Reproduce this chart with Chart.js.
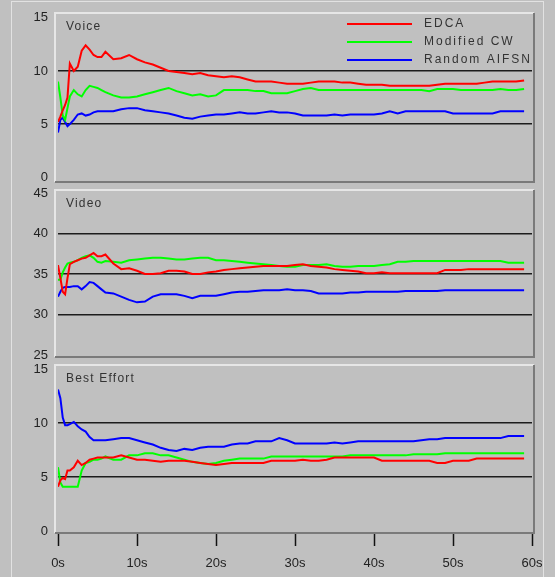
<!DOCTYPE html>
<html><head><meta charset="utf-8">
<script src="https://cdn.jsdelivr.net/npm/chart.js@4.4.1/dist/chart.umd.min.js"></script>
<style>
html,body{margin:0;padding:0;background:#c0c0c0;width:555px;height:577px;overflow:hidden;position:relative;}
.frame{position:absolute;left:11px;top:1px;width:531px;height:590px;border-left:1px solid #e2e2e2;border-top:1px solid #e2e2e2;border-right:1px solid #e2e2e2;}
canvas{position:absolute;left:0;}
</style></head><body>
<div class="frame"></div>
<canvas id="c1" width="555" height="188" style="top:0px"></canvas>
<canvas id="c2" width="555" height="172" style="top:188px"></canvas>
<canvas id="c3" width="555" height="217" style="top:360px"></canvas>
<script>
// ---------- DATA ----------
const times = [0,0.3,0.6,0.9,1.2,1.5,2,2.5,3,3.5,4,4.5,5,5.5,6,
  7,8,9,10,11,12,13,14,15,16,17,18,19,20,21,22,23,24,25,26,27,28,29,30,31,32,33,34,35,36,
  37,38,39,40,41,42,43,44,45,46,47,48,49,50,51,52,53,54,55,56,57,58,59];
const seriesNames = ['EDCA','Modified CW','Random AIFSN'];
const panelTitles = ['Voice','Video','Best Effort'];
const xTickValues = [0,10,20,30,40,50,60];
const voiceTicks = [0,5,10,15];
const videoTicks = [25,30,35,40,45];
const beTicks = [0,5,10,15];

const voiceEdca = [5.2,5.7,6.3,6.8,7.5,10.7,10.0,10.4,11.9,12.4,12.0,11.5,11.3,11.3,11.8,
  11.1,11.2,11.5,11.1,10.8,10.6,10.3,10.0,9.9,9.8,
  9.7,9.8,9.6,9.5,9.4,9.5,9.4,9.2,9.0,9.0,
  9.0,8.9,8.8,8.8,8.8,8.9,9.0,9.0,9.0,8.9,
  8.9,8.8,8.7,8.7,8.7,8.6,8.6,8.6,8.6,8.6,
  8.6,8.7,8.8,8.8,8.8,8.8,8.8,8.9,9.0,9.0,
  9.0,9.0,9.1];
const voiceCw = [9.0,7.5,5.8,5.4,6.5,7.6,8.2,7.8,7.6,8.2,8.6,8.5,8.4,8.2,8.0,
  7.7,7.5,7.5,7.6,7.8,8.0,8.2,8.4,8.1,7.9,
  7.7,7.8,7.6,7.7,8.2,8.2,8.2,8.2,8.1,8.1,
  7.9,7.9,7.9,8.1,8.3,8.4,8.2,8.2,8.2,8.2,
  8.2,8.2,8.2,8.2,8.2,8.2,8.2,8.2,8.2,8.2,
  8.1,8.3,8.3,8.3,8.2,8.2,8.2,8.2,8.2,8.3,
  8.2,8.2,8.3];
const voiceAifsn = [4.2,5.4,5.6,5.2,4.8,5.0,5.4,5.9,6.0,5.8,5.9,6.1,6.2,6.2,6.2,
  6.2,6.4,6.5,6.5,6.3,6.2,6.1,6.0,5.8,5.6,
  5.5,5.7,5.8,5.9,5.9,6.0,6.1,6.0,6.0,6.1,
  6.2,6.1,6.1,6.0,5.8,5.8,5.8,5.8,5.9,5.8,
  5.9,5.9,5.9,5.9,6.0,6.2,6.0,6.2,6.2,6.2,
  6.2,6.2,6.2,6.0,6.0,6.0,6.0,6.0,6.0,6.2,
  6.2,6.2,6.2];

const videoEdca = [36.1,34.5,32.8,32.5,34.5,36.2,36.5,36.7,36.9,37.0,37.3,37.6,37.2,37.2,37.4,
  36.3,35.6,35.7,35.4,35.0,35.0,35.1,35.4,35.4,35.3,
  35.0,35.0,35.2,35.3,35.5,35.6,35.7,35.8,35.9,36.0,
  36.0,36.0,36.0,36.1,36.2,36.0,35.9,35.8,35.6,35.5,
  35.4,35.3,35.1,35.1,35.2,35.1,35.1,35.1,35.1,35.1,
  35.1,35.1,35.5,35.5,35.5,35.6,35.6,35.6,35.6,35.6,
  35.6,35.6,35.6];
const videoCw = [34.3,34.3,35.2,35.8,36.3,36.4,36.5,36.7,37.0,37.2,37.3,37.0,36.5,36.4,36.6,
  36.5,36.4,36.7,36.8,36.9,37.0,37.0,36.9,36.8,36.8,
  36.9,37.0,37.0,36.7,36.7,36.6,36.5,36.4,36.3,36.2,
  36.1,36.0,35.9,35.9,36.1,36.1,36.1,36.2,36.0,35.9,
  35.9,36.0,36.0,36.0,36.1,36.2,36.5,36.5,36.6,36.6,
  36.6,36.6,36.6,36.6,36.6,36.6,36.6,36.6,36.6,36.6,
  36.4,36.4,36.4];
const videoAifsn = [32.2,32.8,33.3,33.4,33.4,33.4,33.5,33.5,33.1,33.5,34.0,33.9,33.5,33.1,32.7,
  32.6,32.2,31.8,31.5,31.6,32.2,32.5,32.5,32.5,32.3,
  32.0,32.3,32.3,32.3,32.5,32.7,32.8,32.8,32.9,33.0,
  33.0,33.0,33.1,33.0,33.0,32.9,32.6,32.6,32.6,32.6,
  32.7,32.7,32.8,32.8,32.8,32.8,32.8,32.9,32.9,32.9,
  32.9,32.9,33.0,33.0,33.0,33.0,33.0,33.0,33.0,33.0,
  33.0,33.0,33.0];

const beEdca = [4.1,4.7,4.9,4.8,5.6,5.6,5.9,6.5,6.1,6.3,6.6,6.7,6.8,6.8,6.8,
  6.8,7.0,6.8,6.6,6.6,6.5,6.4,6.5,6.5,6.5,
  6.4,6.3,6.2,6.1,6.2,6.3,6.3,6.3,6.3,6.3,
  6.5,6.5,6.5,6.5,6.6,6.5,6.5,6.6,6.8,6.8,
  6.8,6.8,6.8,6.8,6.5,6.5,6.5,6.5,6.5,6.5,
  6.5,6.3,6.3,6.5,6.5,6.5,6.7,6.7,6.7,6.7,
  6.7,6.7,6.7];
const beCw = [5.9,4.5,4.1,4.1,4.1,4.1,4.1,4.1,5.6,6.3,6.4,6.6,6.6,6.7,6.9,
  6.6,6.6,7.0,7.0,7.2,7.2,7.0,7.0,6.8,6.6,
  6.4,6.3,6.2,6.3,6.5,6.6,6.7,6.7,6.7,6.7,
  6.9,6.9,6.9,6.9,6.9,6.9,6.9,6.9,6.9,6.9,
  7.0,7.0,7.0,7.0,7.0,7.0,7.0,7.0,7.1,7.1,
  7.1,7.1,7.2,7.2,7.2,7.2,7.2,7.2,7.2,7.2,
  7.2,7.2,7.2];
const beAifsn = [13.1,12.3,10.5,9.8,9.8,9.9,10.1,9.7,9.4,9.2,8.7,8.4,8.4,8.4,8.4,
  8.5,8.6,8.6,8.4,8.2,8.0,7.7,7.5,7.4,7.6,
  7.5,7.7,7.8,7.8,7.8,8.0,8.1,8.1,8.3,8.3,
  8.3,8.6,8.4,8.1,8.1,8.1,8.1,8.1,8.2,8.1,
  8.2,8.3,8.3,8.3,8.3,8.3,8.3,8.3,8.3,8.4,
  8.5,8.5,8.6,8.6,8.6,8.6,8.6,8.6,8.6,8.6,
  8.8,8.8,8.8];

// ---------- STYLE ----------
const colors = ['#ff0000','#00ff00','#0000ff'];
const FONT = '"Liberation Sans", Arial, sans-serif';

function pts(arr){ return times.map((t,i)=>({x:t,y:arr[i]})); }

const framePlugin = {
  id:'frame',
  afterDraw(chart){
    const ctx = chart.ctx, a = chart.chartArea;
    const L = a.left-3, R = a.right+2, T = a.top, B = a.bottom;
    ctx.save();
    ctx.lineWidth = 2;
    ctx.strokeStyle = '#e6e6e6';
    ctx.beginPath(); ctx.moveTo(L,B); ctx.lineTo(L,T); ctx.lineTo(R,T); ctx.stroke();
    ctx.strokeStyle = '#7a7a7a';
    ctx.beginPath(); ctx.moveTo(R,T); ctx.lineTo(R,B); ctx.lineTo(L,B); ctx.stroke();
    const title = chart.options.plugins.panelTitle;
    ctx.font = '12px ' + FONT;
    ctx.letterSpacing = '1.2px';
    ctx.fillStyle = '#333';
    ctx.textBaseline = 'middle';
    ctx.textAlign = 'left';
    ctx.fillText(title, a.left + 8, T + 14);
    ctx.restore();
  }
};

const legendPlugin = {
  id:'customLegend',
  afterDraw(chart){
    const ctx = chart.ctx;
    ctx.save();
    ctx.font = '12px ' + FONT;
    ctx.letterSpacing = '2px';
    ctx.textBaseline = 'middle';
    ctx.textAlign = 'left';
    chart.data.datasets.forEach((ds,i)=>{
      const y = 24 + i*18;
      ctx.strokeStyle = ds.borderColor;
      ctx.lineWidth = 2;
      ctx.beginPath(); ctx.moveTo(347,y); ctx.lineTo(412,y); ctx.stroke();
      ctx.fillStyle = '#333';
      ctx.fillText(ds.label, 424, y);
    });
    ctx.restore();
  }
};

function makeChart(id, title, series, yMin, yMax, yTicks, padding, showX, extraPlugins){
  const innerTicks = yTicks.slice(1,-1);
  return new Chart(document.getElementById(id), {
    type:'line',
    data:{
      datasets: series.map((s,i)=>({
        label: seriesNames[i],
        data: pts(s),
        borderColor: colors[i],
        backgroundColor: colors[i],
        borderWidth: 2,
        pointRadius: 0,
        tension: 0,
        fill: false
      }))
    },
    options:{
      responsive:false,
      animation:false,
      devicePixelRatio:1,
      layout:{ padding: padding, autoPadding:false },
      plugins:{ legend:{display:false}, tooltip:{enabled:false}, panelTitle: title },
      scales:{
        x:{
          type:'linear', min:0, max:60,
          display: showX,
          afterBuildTicks(s){ s.ticks = xTickValues.map(v=>({value:v})); },
          afterFit(s){ if (showX) { s.height = 44; } s.paddingLeft=0; s.paddingRight=0; },
          grid:{ drawOnChartArea:false, drawTicks:true, tickLength:13, tickColor:'#111', tickWidth:1.5, color:'#111' },
          border:{ display:false },
          ticks:{ callback:v=>v+'s', font:{family:FONT,size:13}, color:'#222', padding:10, maxRotation:0, autoSkip:false }
        },
        y:{
          min:yMin, max:yMax,
          afterBuildTicks(s){ s.ticks = yTicks.map(v=>({value:v})); },
          afterFit(s){ s.width = 58; s.paddingTop=0; s.paddingBottom=0; },
          grid:{
            drawTicks:false,
            lineWidth:1.5,
            color: c => innerTicks.includes(c.tick && c.tick.value) ? '#1c1c1c' : 'rgba(0,0,0,0)'
          },
          border:{ display:false },
          ticks:{ font:{family:FONT,size:13}, color:'#222', padding:10 }
        }
      }
    },
    plugins:[framePlugin].concat(extraPlugins||[])
  });
}

makeChart('c1', panelTitles[0], [voiceEdca, voiceCw, voiceAifsn], -0.45, 15.45, voiceTicks,
  {top:13, right:23, bottom:6, left:0}, false, [legendPlugin]);
makeChart('c2', panelTitles[1], [videoEdca, videoCw, videoAifsn], 24.75, 45.37, videoTicks,
  {top:2, right:23, bottom:3, left:0}, false);
makeChart('c3', panelTitles[2], [beEdca, beCw, beAifsn], -0.19, 15.37, beTicks,
  {top:5, right:23, bottom:0, left:0}, true);
</script>
</body></html>
